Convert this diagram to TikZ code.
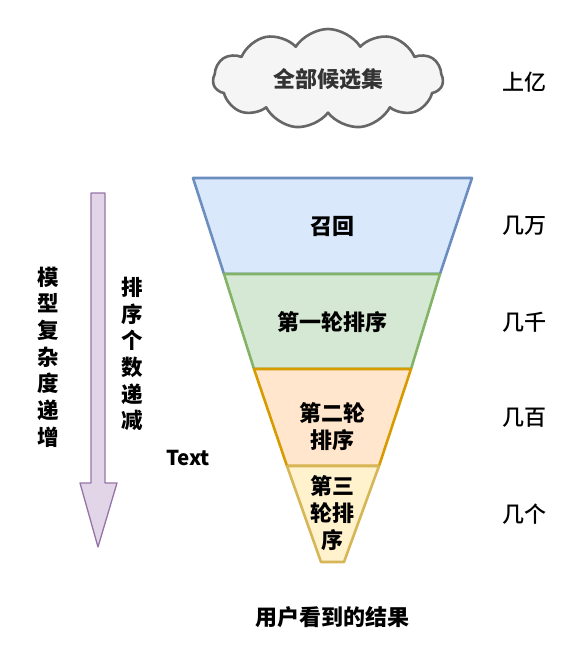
\documentclass[tikz,border=0pt]{standalone}
\usepackage{fontspec}
\setmainfont{Noto Sans CJK SC}
\newfontfamily\cjkmed{Noto Sans CJK SC Medium}
\usepackage{tikz}
\usetikzlibrary{shapes.symbols}

\definecolor{cloudFill}{HTML}{F5F5F5}
\definecolor{cloudLine}{HTML}{666666}
\definecolor{cloudText}{HTML}{333333}
\definecolor{recallFill}{HTML}{DAE8FC}
\definecolor{recallLine}{HTML}{6C8EBF}
\definecolor{rankAFill}{HTML}{D5E8D4}
\definecolor{rankALine}{HTML}{82B366}
\definecolor{rankBFill}{HTML}{FFE6CC}
\definecolor{rankBLine}{HTML}{D79B00}
\definecolor{rankCFill}{HTML}{FFF2CC}
\definecolor{rankCLine}{HTML}{D6B656}
\definecolor{arrowFill}{HTML}{E1D5E7}
\definecolor{arrowLine}{HTML}{9673A6}

\begin{document}
\begin{tikzpicture}[x=1pt, y=-1pt, line join=round]
        \tikzset{
           stage/.style={
                        line width=2.6pt
                       },
           stageText/.style={
                        align=center,
                        text=black,
                        font=\fontsize{22}{27}\selectfont\bfseries
                       },
           countText/.style={
                        text=black,
                        font=\fontsize{22}{26}\selectfont\cjkmed
                       },
           sideText/.style={
                        align=center,
                        text=black,
                        font=\fontsize{21.5}{26.7}\selectfont\bfseries
                       },
                 };
    %--------------------
        \useasboundingbox (0,0) rectangle (580,658);

        \node[cloud, cloud puffs=11, cloud puff arc=115, aspect=2.3,
              draw=cloudLine, fill=cloudFill, line width=2.6pt,
              minimum width=230pt, minimum height=100pt,
              text=cloudText, font=\fontsize{22}{26}\selectfont\bfseries]
              (candidates) at (328,79) {全部候选集};
    %--------------------
        \filldraw[stage, fill=recallFill, draw=recallLine]
              (193,178) -- (472,178) -- (440,274) -- (224,274) -- cycle;
        \filldraw[stage, fill=rankAFill, draw=rankALine]
              (224,274) -- (440,274) -- (411,369) -- (254,369) -- cycle;
        \filldraw[stage, fill=rankBFill, draw=rankBLine]
              (254,369) -- (411,369) -- (379,466) -- (287,466) -- cycle;
        \filldraw[stage, fill=rankCFill, draw=rankCLine]
              (287,466) -- (379,466) -- (344,562) -- (321,562) -- cycle;

        \node[stageText] (recall) at (332,226) {召回};
        \node[stageText] (rankA)  at (332,322) {第一轮排序};
        \node[stageText] (rankB)  at (332,427) {第二轮\\排序};
        \node[stageText] (rankC)  at (332,513) {第三\\轮排\\序};
    %--------------------
        \node[countText] (numAll)    at (524,82)  {上亿};
        \node[countText] (numRecall) at (524,226) {几万};
        \node[countText] (numRankA)  at (524,322) {几千};
        \node[countText] (numRankB)  at (524,418) {几百};
        \node[countText] (numRankC)  at (524,514) {几个};
    %--------------------
        \filldraw[line width=1.3pt, fill=arrowFill, draw=arrowLine]
              (91,193) -- (105,193) -- (105,483) -- (117,483) -- (98,547)
              -- (80,483) -- (91,483) -- cycle;

        \node[sideText] (complexity) at (48,357)  {模\\型\\复\\杂\\度\\递\\增};
        \node[sideText] (ranking)    at (132,354) {排\\序\\个\\数\\递\\减};
        \node[font=\fontsize{20.5}{24}\selectfont\bfseries] (textLabel) at (188,458) {Text};
        \node[font=\fontsize{22}{26}\selectfont\bfseries] (result)    at (332,617) {用户看到的结果};
    \end{tikzpicture}
\end{document}
